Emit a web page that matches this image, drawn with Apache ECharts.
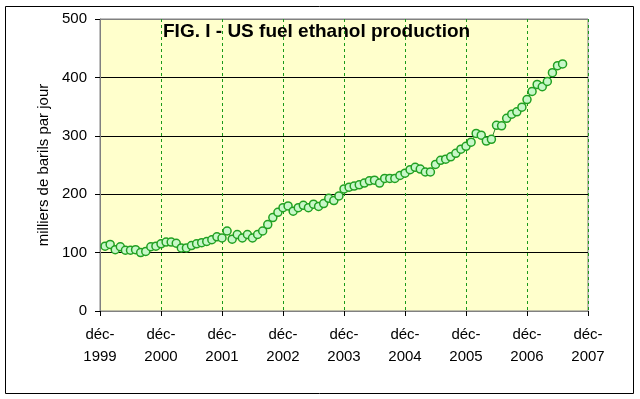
<!DOCTYPE html>
<html>
<head>
<meta charset="utf-8">
<script src="https://cdn.jsdelivr.net/npm/echarts@6/dist/echarts.min.js"></script>
<style>
  html, body { margin: 0; padding: 0; background: #fff; }
  #main { width: 640px; height: 399px; }
</style>
</head>
<body>
<div id="main"></div>
<script>
// months counted from dec-1999 (0), first point is jan-2000
var startYear = 1999;
var monthIndex = [];
for (var m = 1; m <= 91; m++) monthIndex.push(m);

// milliers de barils par jour
var production = [
    111, 114, 105, 110, 104, 104, 105, 100, 102, 110, 111, 115,
    118, 118, 116, 108, 108, 112, 115, 117, 119, 122, 127, 125,
    137, 123, 131, 125, 131, 125, 131, 137, 148, 160, 169, 177,
    180, 171, 177, 181, 177, 183, 179, 184, 193, 189, 197, 209,
    212, 214, 216, 219, 223, 224, 219, 227, 227, 227, 232, 236,
    242, 246, 243, 238, 238, 251, 258, 260, 264, 270, 277, 282,
    289, 304, 301, 291, 294, 318, 317, 330, 337, 341, 349, 362,
    376, 388, 384, 393, 408, 420, 423
];

var titleText = 'FIG. I - US fuel ethanol production';
var yName = 'milliers de barils par jour';

var points = monthIndex.map(function (m, i) { return [m, production[i]]; });

var myChart = echarts.init(document.getElementById('main'));

var font = 'Arial, "Liberation Sans", sans-serif';

var option = {
    backgroundColor: '#fff',
    animation: false,
    title: {
        text: titleText,
        left: 158,
        top: 17,
        textStyle: {
            fontFamily: font,
            fontSize: 19,
            fontWeight: 'bold',
            color: '#000'
        }
    },
    graphic: [{
        type: 'rect',
        shape: { x: 5.5, y: 6.5, width: 628, height: 387 },
        style: { fill: 'none', stroke: '#000', lineWidth: 1 },
        z: -1
    }],
    grid: {
        left: 100,
        right: 52,
        top: 19,
        bottom: 88,
        show: true,
        backgroundColor: '#ffffcc',
        borderColor: '#808080',
        borderWidth: 1
    },
    xAxis: {
        type: 'value',
        min: 0,
        max: 96,
        interval: 12,
        axisLine: { show: true, lineStyle: { color: '#808080', width: 1 } },
        axisTick: { show: true, length: 5, lineStyle: { color: '#000' } },
        axisLabel: {
            fontFamily: font,
            fontSize: 15,
            color: '#000',
            lineHeight: 22,
            margin: 13,
            formatter: function (v) { return 'déc-\n' + (startYear + v / 12); }
        },
        splitLine: {
            show: true,
            lineStyle: { color: '#1a9a1a', type: [3, 3], width: 1 }
        }
    },
    yAxis: {
        type: 'value',
        min: 0,
        max: 500,
        interval: 100,
        name: yName,
        nameLocation: 'middle',
        nameGap: 48,
        nameTextStyle: {
            fontFamily: font,
            fontSize: 15,
            color: '#000'
        },
        axisLine: { show: true, lineStyle: { color: '#808080', width: 1 } },
        axisTick: { show: true, length: 5, lineStyle: { color: '#000' } },
        axisLabel: {
            fontFamily: font,
            fontSize: 15,
            color: '#000',
            margin: 13
        },
        splitLine: {
            show: true,
            lineStyle: { color: ['#000', '#000', '#000', '#000', '#000', '#808080'], width: 1 }
        }
    },
    series: [{
        type: 'line',
        data: points,
        symbol: 'circle',
        symbolSize: 8,
        showSymbol: true,
        lineStyle: { color: '#2e8b2e', width: 1 },
        itemStyle: { color: '#c8f8c8', borderColor: '#22a022', borderWidth: 1.5 },
        z: 3
    }]
};

myChart.setOption(option);
</script>
</body>
</html>
